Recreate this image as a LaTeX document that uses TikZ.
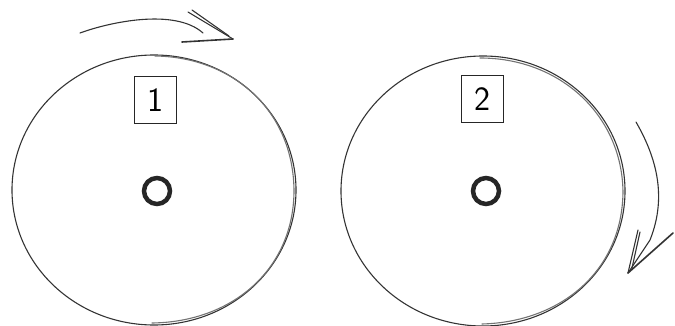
\documentclass[tikz,border=0pt]{standalone}
\usetikzlibrary{shapes.geometric}
\begin{document}
\begin{tikzpicture}[x=1pt,y=-1pt,
  sketch/.style={draw=black!80,line width=1.1pt,line cap=round,line join=round},
  wheel/.style={sketch,ellipse,minimum width=284pt,minimum height=270pt,inner sep=0pt},
  hub/.style={draw=black!85,line width=4.5pt,circle,minimum size=26pt,inner sep=0pt},
  numbox/.style={draw=black!85,line width=1pt,minimum width=42pt,minimum height=47pt,inner sep=0pt,font=\sffamily\fontsize{34}{34}\selectfont}]
\useasboundingbox (0,0) rectangle (675,326);
% wheel 1
\node[wheel] (w1) at (154,190) {};
\draw[sketch,black!55] (155,56) .. controls (232,57) and (294,110) .. (294,192) .. controls (293,270) and (232,322) .. (152,323);
\node[hub] (h1) at (157,191) {};
\node[numbox] (n1) at (155.5,100) {1};
% wheel 2
\node[wheel] (w2) at (483,191) {};
\draw[sketch,black!55] (480,58) .. controls (560,58) and (622,115) .. (623,192) .. controls (622,272) and (560,322) .. (482,324);
\node[hub] (h2) at (486,191) {};
\node[numbox] (n2) at (482.5,99) {2};
% top arrow
\coordinate (a1s) at (80,33);
\coordinate (a1t) at (233,39);
\draw[sketch] (a1s) .. controls (110,22) and (175,8) .. (203,33);
\draw[sketch,line width=1.6pt] (182,42) -- (a1t);
\draw[sketch] (188,12) -- (a1t);
\draw[sketch] (192,10) -- (229,36);
% right arrow
\coordinate (a2s) at (636,122);
\coordinate (a2t) at (628,273);
\draw[sketch] (a2s) .. controls (655,155) and (668,195) .. (650,240) -- (a2t);
\draw[sketch,line width=1.6pt] (673,233) -- (a2t);
\draw[sketch] (638,230) -- (a2t);
\draw[sketch] (640,232) -- (632,268);
\end{tikzpicture}
\end{document}
